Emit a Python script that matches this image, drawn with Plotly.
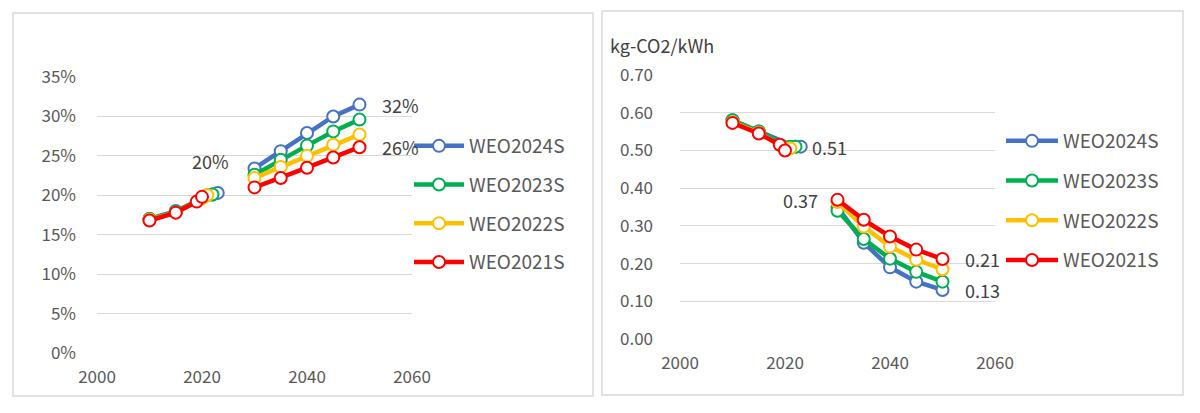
import plotly.graph_objects as go

series = ["WEO2024S", "WEO2023S", "WEO2022S", "WEO2021S"]
colors = ["#4472C4", "#00B050", "#FFC000", "#FF0000"]

hist_years = {
    "WEO2024S": [2010, 2015, 2022, 2023],
    "WEO2023S": [2010, 2015, 2021, 2022],
    "WEO2022S": [2010, 2015, 2020, 2021],
    "WEO2021S": [2010, 2015, 2019, 2020],
}
proj_years = [2030, 2035, 2040, 2045, 2050]

# Left chart: share (fraction)
share_hist = {
    "WEO2024S": [0.170, 0.180, 0.201, 0.203],
    "WEO2023S": [0.170, 0.179, 0.200, 0.201],
    "WEO2022S": [0.169, 0.178, 0.196, 0.200],
    "WEO2021S": [0.168, 0.178, 0.192, 0.198],
}
share_proj = {
    "WEO2024S": [0.234, 0.256, 0.279, 0.300, 0.315],
    "WEO2023S": [0.226, 0.245, 0.263, 0.281, 0.296],
    "WEO2022S": [0.222, 0.236, 0.250, 0.264, 0.277],
    "WEO2021S": [0.210, 0.222, 0.235, 0.248, 0.261],
}

# Right chart: emission factor kg-CO2/kWh
ef_hist = {
    "WEO2024S": [0.580, 0.550, 0.510, 0.510],
    "WEO2023S": [0.580, 0.550, 0.510, 0.510],
    "WEO2022S": [0.575, 0.547, 0.505, 0.505],
    "WEO2021S": [0.573, 0.545, 0.515, 0.500],
}
ef_proj = {
    "WEO2024S": [0.350, 0.255, 0.190, 0.152, 0.130],
    "WEO2023S": [0.340, 0.265, 0.213, 0.178, 0.152],
    "WEO2022S": [0.363, 0.298, 0.245, 0.210, 0.185],
    "WEO2021S": [0.369, 0.316, 0.272, 0.237, 0.212],
}

left_ticks = [0, 0.05, 0.10, 0.15, 0.20, 0.25, 0.30, 0.35]
right_ticks = [0, 0.1, 0.2, 0.3, 0.4, 0.5, 0.6, 0.7]
x_ticks = [2000, 2020, 2040, 2060]

FONT = "Noto Sans CJK JP, Noto Sans, sans-serif"
W, H = 1200, 413

fig = go.Figure()

for s, c in zip(series, colors):
    xs = hist_years[s] + [None] + proj_years
    fig.add_trace(go.Scatter(
        x=xs, y=share_hist[s] + [None] + share_proj[s],
        mode="lines+markers", name=s, legend="legend", legendgroup="L" + s,
        line=dict(color=c, width=4.5), connectgaps=False,
        marker=dict(symbol="circle", size=12, color="white", line=dict(color=c, width=2)),
        xaxis="x", yaxis="y",
    ))
for s, c in zip(series, colors):
    xs = hist_years[s] + [None] + proj_years
    fig.add_trace(go.Scatter(
        x=xs, y=ef_hist[s] + [None] + ef_proj[s],
        mode="lines+markers", name=s, legend="legend2", legendgroup="R" + s,
        line=dict(color=c, width=4.5), connectgaps=False,
        marker=dict(symbol="circle", size=12, color="white", line=dict(color=c, width=2)),
        xaxis="x2", yaxis="y2",
    ))

def px(v):
    return v / W

def py(v):
    return 1 - v / H

axis_common = dict(showline=False, zeroline=False, ticks="", automargin=False,
                   tickfont=dict(family=FONT, size=17, color="#595959"))

fig.update_layout(
    width=W, height=H, margin=dict(l=0, r=0, t=0, b=0, autoexpand=False),
    paper_bgcolor="white", plot_bgcolor="white",
    font=dict(family=FONT, color="#595959"),
    xaxis=dict(domain=[px(97), px(412)], range=[2000, 2060], tickvals=x_ticks,
               showgrid=False, ticklabelstandoff=12, anchor="y", **axis_common),
    yaxis=dict(domain=[py(353), py(77)], range=[0, 0.35], tickvals=left_ticks,
               tickformat=".0%", showgrid=True, gridcolor="#D9D9D9", gridwidth=1.3,
               ticklabelstandoff=20, anchor="x", **axis_common),
    xaxis2=dict(domain=[px(680), px(995)], range=[2000, 2060], tickvals=x_ticks,
                showgrid=False, ticklabelstandoff=12, anchor="y2", **axis_common),
    yaxis2=dict(domain=[py(339), py(75)], range=[0, 0.7], tickvals=right_ticks,
                tickformat=".2f", showgrid=True, gridcolor="#D9D9D9", gridwidth=1.3,
                ticklabelstandoff=26, anchor="x2", **axis_common),
    legend=dict(x=px(409), y=py(127), xanchor="left", yanchor="top",
                bgcolor="rgba(0,0,0,0)", itemwidth=50, tracegroupgap=11,
                font=dict(family=FONT, size=19, color="#595959")),
    legend2=dict(x=px(1001), y=py(122), xanchor="left", yanchor="top",
                 bgcolor="rgba(0,0,0,0)", itemwidth=52, tracegroupgap=12,
                 font=dict(family=FONT, size=19, color="#595959")),
    showlegend=True,
)

# panel borders
fig.add_shape(type="rect", xref="paper", yref="paper",
              x0=px(13), x1=px(593), y0=py(396), y1=py(13),
              line=dict(color="#D9D9D9", width=1.5), layer="below")
fig.add_shape(type="rect", xref="paper", yref="paper",
              x0=px(602), x1=px(1183), y0=py(395), y1=py(11),
              line=dict(color="#D9D9D9", width=1.5), layer="below")

lab_font = dict(family=FONT, size=18, color="#404040")
# left labels
fig.add_annotation(x=2023, y=share_hist["WEO2024S"][3], xref="x", yref="y",
                   text="20%", showarrow=False, yshift=32, xshift=-7, font=lab_font)
fig.add_annotation(x=2050, y=share_proj["WEO2024S"][4], xref="x", yref="y",
                   text="32%", showarrow=False, xanchor="left", xshift=20, font=lab_font)
fig.add_annotation(x=2050, y=share_proj["WEO2021S"][4], xref="x", yref="y",
                   text="26%", showarrow=False, xanchor="left", xshift=20, font=lab_font)
# right labels
fig.add_annotation(x=2023, y=ef_hist["WEO2024S"][3], xref="x2", yref="y2",
                   text="0.51", showarrow=False, xanchor="left", xshift=9, font=lab_font)
fig.add_annotation(x=2030, y=ef_proj["WEO2021S"][0], xref="x2", yref="y2",
                   text="0.37", showarrow=False, xanchor="right", xshift=-18, font=lab_font)
fig.add_annotation(x=2050, y=ef_proj["WEO2021S"][4], xref="x2", yref="y2",
                   text="0.21", showarrow=False, xanchor="left", xshift=20, font=lab_font)
fig.add_annotation(x=2050, y=ef_proj["WEO2024S"][4], xref="x2", yref="y2",
                   text="0.13", showarrow=False, xanchor="left", xshift=20, font=lab_font)
# unit title
fig.add_annotation(x=px(608), y=py(45), xref="paper", yref="paper",
                   text="kg-CO2/kWh", showarrow=False, xanchor="left", yanchor="middle",
                   font=dict(family=FONT, size=18, color="#404040"))

fig.write_html("out.html", config={"displayModeBar": False},
               post_script="document.body.style.margin='0';document.body.style.overflow='hidden';")
